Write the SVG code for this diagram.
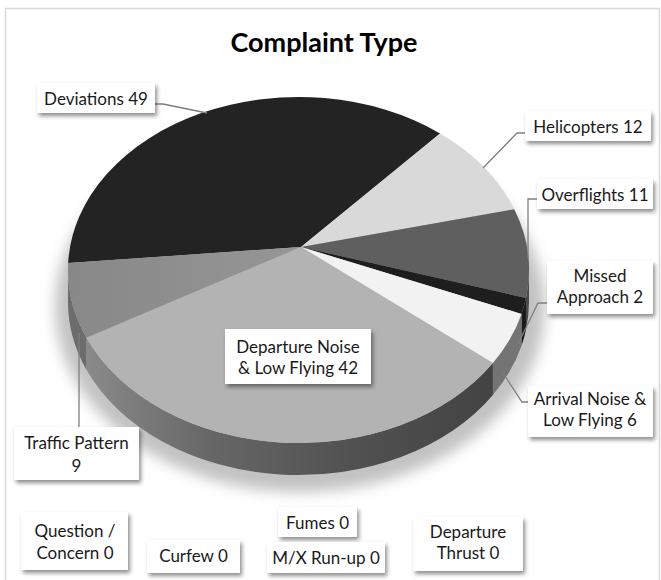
<svg xmlns="http://www.w3.org/2000/svg" width="661" height="580" viewBox="0 0 661 580">
<defs>
<style>
.lbl{font-family:Lato,"Liberation Sans",sans-serif;font-size:17px;fill:#1a1a1a;text-anchor:middle}
.ttl{font-family:Lato,"Liberation Sans",sans-serif;font-size:27px;font-weight:bold;fill:#000;text-anchor:middle}
.box{fill:#fff;filter:url(#ds)}
.lead{fill:none;stroke:#7f7f7f;stroke-width:1.3}
</style>
<filter id="ds" x="-20%" y="-30%" width="150%" height="180%">
<feGaussianBlur in="SourceAlpha" stdDeviation="2"/>
<feOffset dx="2" dy="3"/>
<feComponentTransfer><feFuncA type="linear" slope="0.45"/></feComponentTransfer>
<feMerge><feMergeNode/><feMergeNode in="SourceGraphic"/></feMerge>
</filter>
<filter id="halo" x="-20%" y="-20%" width="140%" height="140%"><feGaussianBlur stdDeviation="7"/></filter>
<linearGradient id="depside" gradientUnits="userSpaceOnUse" x1="86" y1="0" x2="495" y2="0">
<stop offset="0" stop-color="#8a8a8a"/>
<stop offset="0.3" stop-color="#676767"/>
<stop offset="0.65" stop-color="#515151"/>
<stop offset="1" stop-color="#434343"/>
</linearGradient>
<linearGradient id="trafgrad" gradientUnits="userSpaceOnUse" x1="68" y1="0" x2="301" y2="0">
<stop offset="0" stop-color="#888"/>
<stop offset="1" stop-color="#969696"/>
</linearGradient>
</defs>
<rect x="5.5" y="8.5" width="654" height="580" fill="#fff" stroke="#d9d9d9" stroke-width="1.5"/>
<text class="ttl" x="324" y="52">Complaint Type</text>
<ellipse cx="300" cy="307" rx="245" ry="185" fill="#c2c2c2" filter="url(#halo)"/>
<g id="pie">
<g id="slice-deviations">
<path d="M301,247 L68.19,263.06 A230.5,173 0 0 1 440.09,133.49 Z" fill="#232323"/>
</g>
<g id="slice-helicopters">
<path d="M301,247 L440.09,133.49 A230.5,173 0 0 1 514.26,209.13 Z" fill="#d9d9d9"/>
</g>
<g id="slice-overflights">
<path d="M529,270 A230.5,173 0 0 1 525.97,297.96 L525.97,329.96 A230.5,173 0 0 0 529,302 Z" fill="#4a4a4a"/>
<path d="M301,247 L514.26,209.13 A230.5,173 0 0 1 525.97,297.96 Z" fill="#5f5f5f"/>
</g>
<g id="slice-missed">
<path d="M525.97,297.96 A230.5,173 0 0 1 521.46,313.9 L521.46,345.9 A230.5,173 0 0 0 525.97,329.96 Z" fill="#1a1a1a"/>
<path d="M301,247 L525.97,297.96 A230.5,173 0 0 1 521.46,313.9 Z" fill="#1e1e1e"/>
</g>
<g id="slice-arrival">
<path d="M521.46,313.9 A230.5,173 0 0 1 492.9,362.95 L492.9,394.95 A230.5,173 0 0 0 521.46,345.9 Z" fill="#747474"/>
<path d="M301,247 L521.46,313.9 A230.5,173 0 0 1 492.9,362.95 Z" fill="#f2f2f2"/>
</g>
<g id="slice-departure">
<path d="M492.9,362.95 A230.5,173 0 0 1 86.48,337.87 L86.48,369.87 A230.5,173 0 0 0 492.9,394.95 Z" fill="url(#depside)"/>
<path d="M301,247 L492.9,362.95 A230.5,173 0 0 1 86.48,337.87 Z" fill="#b3b3b3"/>
</g>
<g id="slice-traffic">
<path d="M86.48,337.87 A230.5,173 0 0 1 68,270 L68,302 A230.5,173 0 0 0 86.48,369.87 Z" fill="#6c6c6c"/>
<path d="M301,247 L86.48,337.87 A230.5,173 0 0 1 68.19,263.06 Z" fill="url(#trafgrad)"/>
</g>
</g>
<g id="connectors">
<polyline class="lead" points="155,104 163,104 207,113"/>
<polyline class="lead" points="525,133 517,133 483,168"/>
<polyline class="lead" points="537,199 528,199 528,258"/>
<polyline class="lead" points="547,303 538,303 518,344"/>
<polyline class="lead" points="528,402 522,402 503,373"/>
<polyline class="lead" points="79,427 79,333"/>
</g>
<g id="label-deviations"><rect class="box" x="37" y="83" width="118" height="30"/><text class="lbl" x="96" y="105">Deviations 49</text></g>
<g id="label-helicopters"><rect class="box" x="525" y="111" width="126" height="30"/><text class="lbl" x="588" y="133">Helicopters 12</text></g>
<g id="label-overflights"><rect class="box" x="537" y="179" width="116" height="30"/><text class="lbl" x="595" y="201">Overflights 11</text></g>
<g id="label-missed"><rect class="box" x="547" y="261" width="106" height="53"/><text class="lbl" x="600" y="282">Missed</text><text class="lbl" x="600" y="303">Approach 2</text></g>
<g id="label-arrival"><rect class="box" x="528" y="386" width="125" height="51"/><text class="lbl" x="590" y="405">Arrival Noise &amp;</text><text class="lbl" x="590" y="426">Low Flying 6</text></g>
<g id="label-departure"><rect class="box" x="225" y="329" width="146" height="55"/><text class="lbl" x="298" y="353">Departure Noise</text><text class="lbl" x="298" y="374">&amp; Low Flying 42</text></g>
<g id="label-traffic"><rect class="box" x="14" y="427" width="125" height="53"/><text class="lbl" x="76.5" y="449">Traffic Pattern</text><text class="lbl" x="76.5" y="472">9</text></g>
<g id="label-question"><rect class="box" x="21" y="512" width="107" height="58"/><text class="lbl" x="75" y="537">Question /</text><text class="lbl" x="75" y="559">Concern 0</text></g>
<g id="label-curfew"><rect class="box" x="147" y="540" width="93" height="33"/><text class="lbl" x="193.5" y="562">Curfew 0</text></g>
<g id="label-fumes"><rect class="box" x="278" y="507" width="79" height="30"/><text class="lbl" x="317.5" y="529">Fumes 0</text></g>
<g id="label-mxrunup"><rect class="box" x="267" y="542" width="118" height="31"/><text class="lbl" x="326" y="564">M/X Run-up 0</text></g>
<g id="label-thrust"><rect class="box" x="413" y="517" width="110" height="54"/><text class="lbl" x="468" y="538">Departure</text><text class="lbl" x="468" y="559">Thrust 0</text></g>
</svg>
